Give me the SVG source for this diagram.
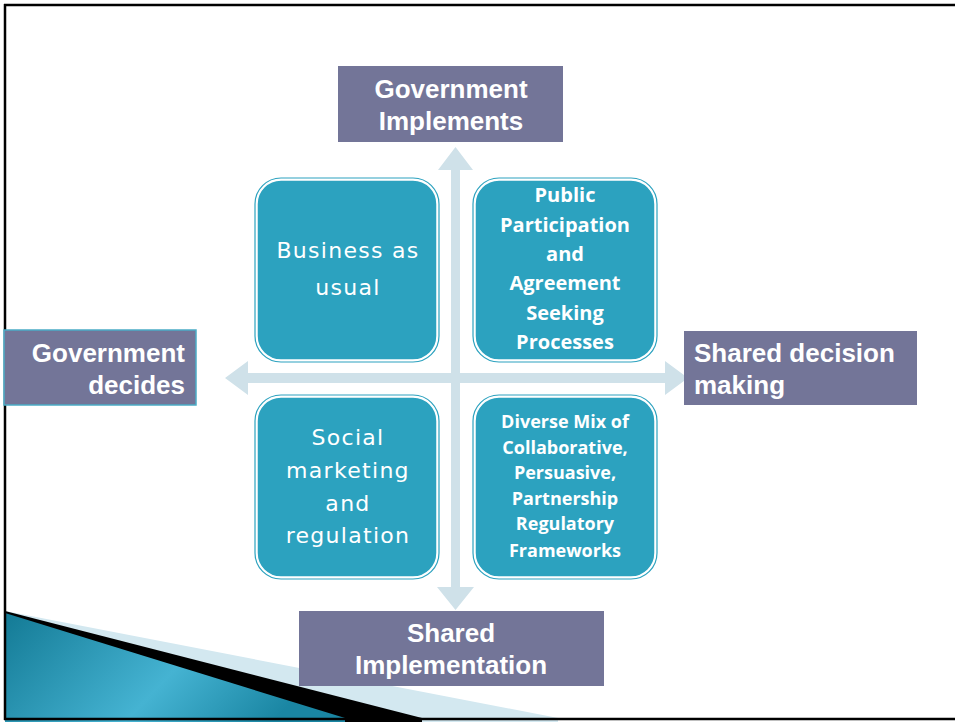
<svg xmlns="http://www.w3.org/2000/svg" width="955" height="722" viewBox="0 0 955 722">
<defs>
<linearGradient id="tealg" x1="0" y1="0" x2="1" y2="0.3">
<stop offset="0" stop-color="#137a95"/>
<stop offset="0.6" stop-color="#45b3d2"/>
<stop offset="1" stop-color="#1a86a3"/>
</linearGradient>
<style>
.lbl{fill:#737598;}
.lt{font-family:"Liberation Sans",Arial,sans-serif;font-weight:bold;font-size:26px;fill:#ffffff;}
.arrow{fill:#cfe1e9;}
.tb{fill:#2ca2bf;stroke:#ffffff;stroke-width:1.5;}
.tbo{fill:none;stroke:#2ca2bf;stroke-width:1.2;}
.tr{font-family:"DejaVu Sans",Verdana,sans-serif;font-size:22px;fill:#ffffff;letter-spacing:1.3px;text-anchor:middle;}
.tbd{font-family:"Open Sans","DejaVu Sans",sans-serif;font-weight:bold;fill:#ffffff;text-anchor:middle;}
</style>
</defs>
<rect x="0" y="0" width="955" height="722" fill="#ffffff"/>
<g id="decor">
<polygon points="5,611 558,718 558,722 5,722" fill="#d3e8f0"/>
<polygon points="5,611 422,718 422,722 5,722" fill="#000000"/>
<polygon points="5,613 345,718 345,722 5,722" fill="url(#tealg)"/>
</g>
<g id="frame" stroke="#000000" stroke-width="2.5" fill="none">
<line x1="4" y1="5" x2="955" y2="5"/>
<line x1="5" y1="4" x2="5" y2="720"/>
<line x1="4" y1="719" x2="955" y2="719"/>
</g>
<g id="connectors">
<polygon class="arrow" points="225,378 248,361 248,373 451,373 451,170 438,170 455.5,147 473,170 460,170 460,373 665,373 665,361 688,378 665,395 665,383 460,383 460,587 474,587 455.5,610 437,587 451,587 451,383 248,383 248,395"/>
</g>
<g id="gov-implements">
<rect class="lbl" x="338" y="66" width="225" height="76"/>
<text class="lt" x="451" y="98" text-anchor="middle">Government</text>
<text class="lt" x="451" y="130" text-anchor="middle">Implements</text>
</g>
<g id="gov-decides">
<rect class="lbl" x="4" y="330" width="192" height="75" stroke="#4bacc6" stroke-width="1.5"/>
<text class="lt" x="185" y="362" text-anchor="end">Government</text>
<text class="lt" x="185" y="394" text-anchor="end">decides</text>
</g>
<g id="shared-decision">
<rect class="lbl" x="684" y="331" width="233" height="74"/>
<text class="lt" x="694" y="362">Shared decision</text>
<text class="lt" x="694" y="394">making</text>
</g>
<g id="shared-implementation">
<rect class="lbl" x="299" y="611" width="305" height="75"/>
<text class="lt" x="451" y="642" text-anchor="middle">Shared</text>
<text class="lt" x="451" y="674" text-anchor="middle">Implementation</text>
</g>
<g id="business-as-usual">
<rect class="tbo" x="255" y="178" width="184" height="184" rx="26"/>
<rect class="tb" x="257" y="180" width="180" height="180" rx="24"/>
<text class="tr" x="348" y="258">Business as</text>
<text class="tr" x="348" y="295">usual</text>
</g>
<g id="public-participation">
<rect class="tbo" x="473" y="178" width="184" height="184" rx="26"/>
<rect class="tb" x="475" y="180" width="180" height="180" rx="24"/>
<text class="tbd" font-size="20" x="565" y="202">Public</text>
<text class="tbd" font-size="20" x="565" y="232">Participation</text>
<text class="tbd" font-size="20" x="565" y="261">and</text>
<text class="tbd" font-size="20" x="565" y="290">Agreement</text>
<text class="tbd" font-size="20" x="565" y="320">Seeking</text>
<text class="tbd" font-size="20" x="565" y="349">Processes</text>
</g>
<g id="social-marketing">
<rect class="tbo" x="255" y="395" width="184" height="184" rx="26"/>
<rect class="tb" x="257" y="397" width="180" height="180" rx="24"/>
<text class="tr" font-size="21" x="348" y="445">Social</text>
<text class="tr" font-size="21" x="348" y="478">marketing</text>
<text class="tr" font-size="21" x="348" y="511">and</text>
<text class="tr" font-size="21" x="348" y="543">regulation</text>
</g>
<g id="diverse-mix">
<rect class="tbo" x="473" y="395" width="184" height="184" rx="26"/>
<rect class="tb" x="475" y="397" width="180" height="180" rx="24"/>
<text class="tbd" font-size="18" x="565" y="428">Diverse Mix of</text>
<text class="tbd" font-size="18" x="565" y="454">Collaborative,</text>
<text class="tbd" font-size="18" x="565" y="479">Persuasive,</text>
<text class="tbd" font-size="18" x="565" y="505">Partnership</text>
<text class="tbd" font-size="18" x="565" y="530">Regulatory</text>
<text class="tbd" font-size="18" x="565" y="557">Frameworks</text>
</g>
</svg>
